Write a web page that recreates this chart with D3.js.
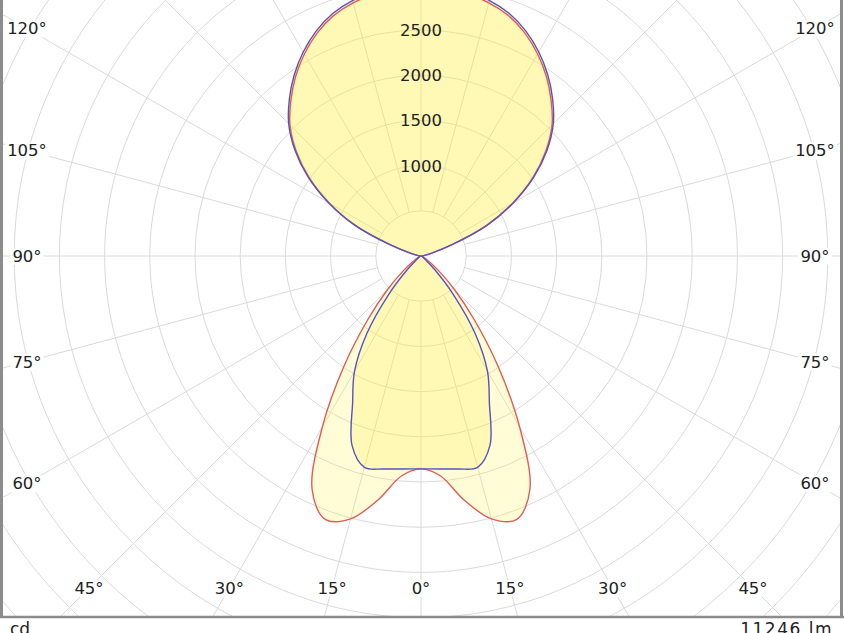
<!DOCTYPE html>
<html><head><meta charset="utf-8">
<script src="https://cdn.jsdelivr.net/npm/d3@7"></script>
<style>html,body{margin:0;padding:0;background:#fff;overflow:hidden}svg{display:block;font-family:"DejaVu Sans",Verdana,sans-serif}</style>
</head><body><svg id="chart" width="844" height="633"></svg>
<script>
// gamma angles from nadir (deg)
const gammas = [0,5,10,15,20,25,30,35,40,45,50,55,60,65,70,75,80,85,90,95,100,105,110,115,120,125,130,135,140,145,150,155,160,165,170,175,180];
// C0-C180 plane (red), cd
const redValues = [2355,2440,2740,3010,3100,2850,2180,1480,910,520,260,120,60,35,25,18,12,8,5,10,40,120,360,800,1170,1510,1800,2050,2240,2420,2580,2720,2830,2900,2940,2960,2965];
// C90-C270 plane (blue), cd
const blueValues = [2355,2365,2392,2420,2230,1790,1470,1040,560,220,70,30,20,15,12,10,8,6,5,10,42,125,365,810,1185,1525,1820,2070,2265,2445,2605,2745,2855,2925,2965,2985,2990];
const ringValues = [500,1000,1500,2000,2500,3000,3500,4000,4500,5000,5500,6000,6500,7000];
const ringLabels = [1000,1500,2000,2500];
const spokeAngles = [0,15,30,45,60,75,90,105,120,135,150,165,180,195,210,225,240,255,270,285,300,315,330,345];
const angleTickLabels = [0,15,30,45,60,75,90,105,120];
const unitLabel = "cd";
const fluxLabel = "11246 lm";

const svg = d3.select("#chart");
const cx = 421, cy = 256;
const r = d3.scaleLinear().domain([0, 500]).range([0, 45.2]);
const frame = {x0: 3, x1: 840, y0: 0, y1: 616};

svg.append("defs").append("clipPath").attr("id","clipFrame")
  .append("rect").attr("x",frame.x0).attr("y",frame.y0)
  .attr("width",frame.x1-frame.x0).attr("height",frame.y1-frame.y0);

const g = svg.append("g").attr("clip-path","url(#clipFrame)");
const gc = g.append("g").attr("transform",`translate(${cx},${cy})`);

// rings
gc.selectAll("circle.ring").data(ringValues).join("circle")
  .attr("class","ring").attr("r", d => r(d))
  .attr("fill","none").attr("stroke","#dadada").attr("stroke-width",1);

// spokes
const rad = d => d*Math.PI/180;
gc.selectAll("line.spoke").data(spokeAngles).join("line")
  .attr("x1", d => r(500)*Math.sin(rad(d)))
  .attr("y1", d => r(500)*Math.cos(rad(d)))
  .attr("x2", d => 800*Math.sin(rad(d)))
  .attr("y2", d => 800*Math.cos(rad(d)))
  .attr("stroke","#dadada").attr("stroke-width",1);

// curves
function pts(vals){
  const p = [];
  gammas.forEach((gm,i) => p.push([Math.PI - rad(gm), r(vals[i])]));
  for (let i = gammas.length-2; i >= 1; i--) p.push([Math.PI + rad(gammas[i]), r(vals[i])]);
  return p;
}
const line = d3.lineRadial().angle(d=>d[0]).radius(d=>d[1]).curve(d3.curveCatmullRomClosed.alpha(0.5));
const series = [{vals: redValues, color:"#e45a55"},{vals: blueValues, color:"#5553c4"}];
series.forEach(s => {
  gc.append("path").attr("d", line(pts(s.vals)))
    .attr("fill","rgb(255,240,60)").attr("fill-opacity",0.21).attr("stroke","none");
});
series.forEach(s => {
  gc.append("path").attr("d", line(pts(s.vals)))
    .attr("fill","none").attr("stroke",s.color).attr("stroke-width",1.4);
});

// ring labels
gc.selectAll("text.rl").data(ringLabels).join("text")
  .attr("x",0).attr("y", d => -r(d)).attr("dy","0.36em")
  .attr("text-anchor","middle").attr("font-size",16.5).attr("fill","#222")
  .text(d => d);

// angle labels
const W = 394, H = 332, T = 250;
const labs = [];
angleTickLabels.forEach(a => {
  const sides = a === 0 ? [1] : [-1, 1];
  sides.forEach(s => {
    const dx = s*Math.sin(rad(a)), dy = Math.cos(rad(a));
    const tx = Math.abs(dx) > 1e-6 ? W/Math.abs(dx) : Infinity;
    const ty = dy > 1e-6 ? H/dy : (dy < -1e-6 ? T/(-dy) : Infinity);
    const t = Math.min(tx, ty);
    labs.push({a, x: cx + dx*t, y: cy + dy*t});
  });
});
const lg = svg.append("g");
labs.forEach(l => {
  const gg = lg.append("g");
  const tx = gg.append("text").attr("x", l.x).attr("y", l.y).attr("dy","0.36em")
    .attr("text-anchor","middle").attr("font-size",16.5).attr("fill","#222")
    .text(l.a + "°");
  const bb = tx.node().getBBox();
  gg.insert("rect","text").attr("x",bb.x-2).attr("y",bb.y+1).attr("width",bb.width+4).attr("height",bb.height-2).attr("fill","#fff");
});

// frame
svg.append("line").attr("x1",1.5).attr("x2",1.5).attr("y1",0).attr("y2",618).attr("stroke","#8c8c8c").attr("stroke-width",3);
svg.append("line").attr("x1",841.5).attr("x2",841.5).attr("y1",0).attr("y2",618).attr("stroke","#8c8c8c").attr("stroke-width",3);
svg.append("line").attr("x1",0).attr("x2",844).attr("y1",617).attr("y2",617).attr("stroke","#8c8c8c").attr("stroke-width",2.5);

svg.append("text").attr("x",10).attr("y",635).attr("font-size",17).attr("fill","#222").text(unitLabel);
svg.append("text").attr("x",833).attr("y",635).attr("text-anchor","end").attr("font-size",17).attr("letter-spacing",1.5).attr("fill","#222").text(fluxLabel);
</script></body></html>
